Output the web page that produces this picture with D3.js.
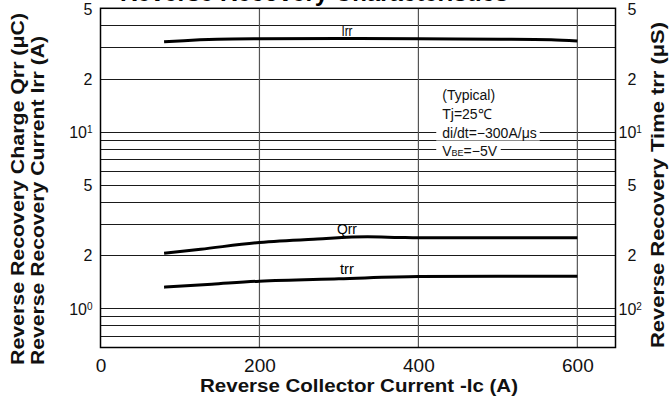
<!DOCTYPE html>
<html>
<head>
<meta charset="utf-8">
<script src="https://cdn.jsdelivr.net/npm/d3@7"></script>
<style>
  body { margin: 0; background: #fff; }
  svg { display: block; font-family: "Liberation Sans", Arial, sans-serif; }
</style>
</head>
<body>
<div id="chart"></div>
<script>
// Reverse collector current (A) and the values read for each curve
var irrCurrent = [80, 105, 147, 200, 300, 400, 504, 567, 600];
var irrValues  = [32.3, 32.8, 33.35, 33.6, 33.75, 33.6, 33.45, 33.2, 32.6];

var qrrCurrent = [80, 126, 200, 273, 336, 376, 400, 500, 600];
var qrrValues  = [2.05, 2.16, 2.36, 2.47, 2.54, 2.52, 2.51, 2.51, 2.51];

var trrCurrent = [80, 140, 200, 300, 400, 500, 600];
var trrValues  = [1.318, 1.37, 1.425, 1.47, 1.515, 1.52, 1.52];

// axes
var xTicks = [0, 200, 400, 600];
var yGrid = [50, 40, 30, 20, 10, 9, 8, 7, 6, 5, 4, 3, 2, 1, 0.9, 0.8, 0.7];
var yTicks = [50, 20, 10, 5, 2, 1];
var leftTickLabels  = [["5"], ["2"], ["10", "1"], ["5"], ["2"], ["10", "0"]];
var rightTickLabels = [["5"], ["2"], ["10", "1"], ["5"], ["2"], ["10", "2"]];

// curve labels: name, current where label sits
var curveLabels = [["Irr", 305], ["Qrr", 305], ["trr", 305]];

var conditions = ["(Typical)", "Tj=25℃", "di/dt=−300A/μs", "V|BE|=−5V"];

var width = 671, height = 397;

var svg = d3.select("#chart").append("svg")
    .attr("width", width)
    .attr("height", height);

var x = d3.scaleLinear().domain([0, 648]).range([100.5, 615.5]);
var y = d3.scaleLog().domain([0.6, 50]).range([347.5, 8.3]);
var yRight = d3.scaleLog().domain([0.6, 50]).range([347.5, 8.3]);

// title, mostly above the picture
svg.append("text")
    .attr("x", 120)
    .attr("y", 1)
    .style("font-size", "24px")
    .style("font-weight", "bold")
    .text("Reverse Recovery Characteristics");

// ****************** grid ***************************
svg.append("g").selectAll("line.h")
    .data(yGrid)
    .enter().append("line")
    .attr("x1", x.range()[0]).attr("x2", x.range()[1])
    .attr("y1", function(d) { return Math.round(y(d)) + 0.5; })
    .attr("y2", function(d) { return Math.round(y(d)) + 0.5; })
    .attr("stroke", "#1a1a1a")
    .attr("stroke-width", 1);

svg.append("g").selectAll("line.v")
    .data(xTicks.slice(1))
    .enter().append("line")
    .attr("x1", function(d) { return x(d); })
    .attr("x2", function(d) { return x(d); })
    .attr("y1", y.range()[1]).attr("y2", y.range()[0])
    .attr("stroke", "#555")
    .attr("stroke-width", 1.2);

svg.append("rect")
    .attr("x", x.range()[0]).attr("y", y.range()[1])
    .attr("width", x.range()[1] - x.range()[0])
    .attr("height", y.range()[0] - y.range()[1])
    .attr("fill", "none")
    .attr("stroke", "#000")
    .attr("stroke-width", 1.5);

// ****************** axes ***************************
var xAxis = svg.append("g")
    .attr("transform", "translate(0," + y.range()[0] + ")")
    .call(d3.axisBottom(x).tickValues(xTicks).tickSize(0).tickPadding(11));
xAxis.select(".domain").remove();
xAxis.selectAll("text")
    .style("font-size", "19px")
    .attr("fill", "#111");

function powerLabels(axisG, labels) {
    axisG.select(".domain").remove();
    axisG.selectAll(".tick text").each(function(d, i) {
        var t = d3.select(this).text(labels[i][0])
            .style("font-size", "16px")
            .attr("fill", "#111")
            .attr("dy", "0.36em");
        if (labels[i].length > 1) {
            t.append("tspan")
                .attr("dy", "-0.45em")
                .style("font-size", "10px")
                .text(labels[i][1]);
        }
    });
}

var yAxisLeft = svg.append("g")
    .attr("transform", "translate(" + x.range()[0] + ",0)")
    .call(d3.axisLeft(y).tickValues(yTicks).tickSize(0).tickPadding(8));
powerLabels(yAxisLeft, leftTickLabels);

var yAxisRight = svg.append("g")
    .attr("transform", "translate(" + x.range()[1] + ",0)")
    .call(d3.axisRight(yRight).tickValues(yTicks).tickSize(0).tickPadding(12));
powerLabels(yAxisRight, rightTickLabels);
yAxisRight.selectAll(".tick text").each(function(d, i) {
    if (rightTickLabels[i].length > 1) d3.select(this).attr("x", 3);
});

// axis titles (the original face is wider than ours, so stretch the glyphs)
function axisTitle(transform, len, label) {
    svg.append("text")
        .attr("transform", transform)
        .attr("textLength", len).attr("lengthAdjust", "spacingAndGlyphs")
        .style("font-size", "17.5px").style("font-weight", "bold")
        .attr("fill", "#111")
        .text(label);
}
axisTitle("translate(200,392)", 318, "Reverse Collector Current -Ic (A)");
axisTitle("translate(24,365) rotate(-90)", 352, "Reverse Recovery Charge Qrr (μC)");
axisTitle("translate(44,365) rotate(-90)", 329, "Reverse Recovery Current Irr (A)");
axisTitle("translate(664,348) rotate(-90)", 326, "Reverse Recovery Time trr (μS)");

// ****************** curves ***************************
var line = d3.line()
    .x(function(d) { return x(d[0]); })
    .y(function(d) { return d[2](d[1]); })
    .curve(d3.curveMonotoneX);

var series = [
    {name: "Irr", cur: irrCurrent, val: irrValues, scale: y, lift: 2, len: 11},
    {name: "Qrr", cur: qrrCurrent, val: qrrValues, scale: y, lift: 4, len: 20},
    {name: "trr", cur: trrCurrent, val: trrValues, scale: yRight, lift: 5, len: 14}
];

series.forEach(function(s, k) {
    var pts = s.cur.map(function(c, i) { return [c, s.val[i], s.scale]; });
    svg.append("path")
        .attr("d", line(pts))
        .attr("fill", "none")
        .attr("stroke", "#000")
        .attr("stroke-width", 3);

    // label above the curve
    var at = curveLabels[k][1];
    var v = d3.scaleLinear().domain(s.cur).range(s.val)(at);
    svg.append("text")
        .attr("x", x(at) + 4)
        .attr("y", s.scale(v) - s.lift)
        .attr("text-anchor", "middle")
        .style("font-size", "14px")
        .attr("textLength", s.len)
        .attr("lengthAdjust", "spacingAndGlyphs")
        .text(s.name);
});

// ****************** conditions box ***************************
var condG = svg.append("g");
var baselines = [100, 119, 137.5, 155.5];
conditions.forEach(function(c, i) {
    var parts = c.split("|");
    var t = condG.append("text")
        .attr("x", x(430))
        .attr("y", baselines[i])
        .style("font-size", "14px")
        .attr("fill", "#111");
    parts.forEach(function(p, j) {
        var ts = t.append("tspan").text(p);
        if (j == 1) ts.style("font-size", "9px");
    });
    var b = t.node().getBBox();
    condG.insert("rect", "text")
        .attr("x", b.x - 6).attr("y", b.y + 1)
        .attr("width", b.width + 9).attr("height", b.height - 1)
        .attr("fill", "#fff");
});
</script>
</body>
</html>
